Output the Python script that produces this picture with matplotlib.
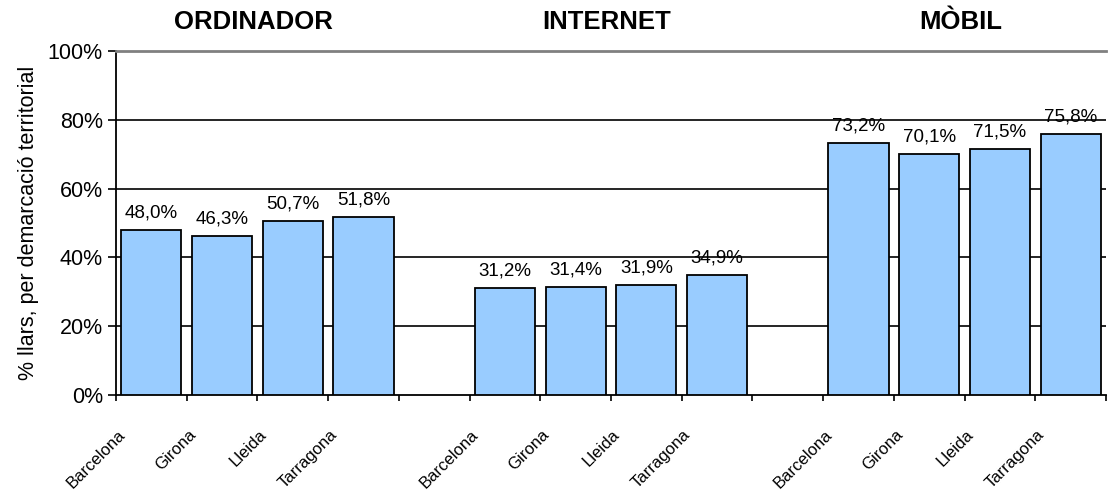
import numpy as np
from matplotlib import pyplot as plt
from matplotlib import font_manager
from matplotlib.ticker import FuncFormatter

# Data (% of households per territorial area)
groups = ["ORDINADOR", "INTERNET", "MÒBIL"]
territories = ["Barcelona", "Girona", "Lleida", "Tarragona"]
ordinador = [48.0, 46.3, 50.7, 51.8]
internet = [31.2, 31.4, 31.9, 34.9]
mobil = [73.2, 70.1, 71.5, 75.8]

series = [ordinador, internet, mobil]
slots_per_group = len(territories) + 1

plt.rcParams["font.family"] = ["Liberation Sans", "DejaVu Sans"]

# condensed font for the territory labels if one is around
installed = {f.name for f in font_manager.fontManager.ttflist}
if "Liberation Sans Narrow" in installed:
    cat_family, cat_size = "Liberation Sans Narrow", 13.5
else:
    cat_family, cat_size = "Liberation Sans", 12

fig = plt.figure(figsize=(11.1, 4.95), dpi=100)
ax = fig.add_axes([116 / 1110, 100 / 495, 990 / 1110, 344 / 495])

for g, vals in enumerate(series):
    xs = np.arange(len(vals)) + g * slots_per_group
    ax.bar(xs, vals, width=0.85, color="#99CCFF", edgecolor="black",
           linewidth=1.3, zorder=3)
    for x, v in zip(xs, vals):
        ax.annotate(f"{v:.1f}%".replace(".", ","), xy=(x, v),
                    xytext=(0, 6), textcoords="offset points",
                    ha="center", va="bottom", fontsize=13.5, zorder=4)
    # territory labels under each bar
    for x, name in zip(xs, territories):
        ax.annotate(name, xy=(x, 0), xycoords=("data", "axes fraction"),
                    xytext=(-17, -23), textcoords="offset points",
                    ha="right", va="top", rotation=45, fontsize=cat_size,
                    family=cat_family)
    # group title above the plot
    centre = g * slots_per_group + (len(vals) - 1) / 2
    ax.annotate(groups[g], xy=(centre, 1), xycoords=("data", "axes fraction"),
                xytext=(-3, 21), textcoords="offset points",
                ha="center", va="center", fontsize=18.5, fontweight="bold")

n_slots = slots_per_group * len(series) - 1
ax.set_xlim(-0.5, n_slots - 0.5)
ax.set_ylim(0, 100)

ax.set_yticks(np.arange(0, 101, 20))
ax.yaxis.set_major_formatter(FuncFormatter(lambda v, _: f"{v:.0f}%"))
ax.tick_params(axis="y", labelsize=15.5, length=6, width=1.2, direction="out")
for yv in range(20, 100, 20):
    ax.axhline(yv, color="black", linewidth=1.2, zorder=1)

ax.set_xticks(np.arange(-0.5, n_slots, 1.0))
ax.set_xticklabels([])
ax.tick_params(axis="x", length=4, width=1.2, direction="out")

ax.spines["right"].set_visible(False)
ax.spines["top"].set_color("#808080")
ax.spines["top"].set_linewidth(2)
ax.spines["left"].set_linewidth(1.3)
ax.spines["bottom"].set_linewidth(1.3)

ax.set_ylabel("% llars, per demarcació territorial", fontsize=15.5, labelpad=6)

fig.savefig("out.png", dpi=100)
